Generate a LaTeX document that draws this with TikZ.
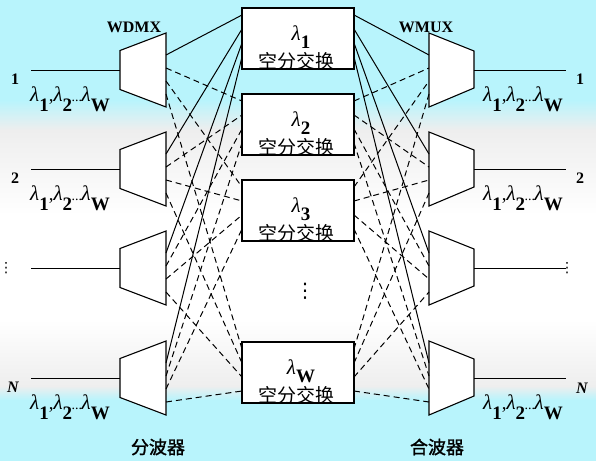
\documentclass[tikz,border=0pt]{standalone}
\usepackage{fontspec}
\setmainfont{Liberation Serif}
\newfontfamily\cjk{Noto Sans CJK SC}
\newfontfamily\cjkb[FakeBold=1.5]{Noto Sans CJK SC}
\newfontfamily\sym{DejaVu Sans}
\definecolor{cyanbg}{RGB}{184,244,252}
\definecolor{graybg}{RGB}{238,238,238}
\newcommand\lsub[1]{{\fontsize{21}{22}\selectfont\itshape λ}\raisebox{-0.55em}{\bfseries #1}}
\newcommand\lsubbox[1]{{\fontsize{21}{22}\selectfont\itshape λ}\raisebox{-0.42em}{\bfseries #1}}
\newcommand\lamlist{\lsub{1},\lsub{2}\kern-0.5pt{\fontsize{14}{14}\selectfont...}\kern-0.5pt\lsub{W}}
\tikzset{
  trap/.style={draw, fill=white, line width=1.1pt},
  cbox/.style={draw, fill=white, line width=1.1pt, minimum width=112pt, minimum height=61pt, inner sep=0pt},
  link/.style={line width=1pt},
  dlink/.style={line width=1pt, dash pattern=on 6pt off 4pt},
  big/.style={font=\fontsize{19}{20}\selectfont, inner sep=0pt},
  num/.style={font=\fontsize{16}{18}\selectfont\bfseries, inner sep=0pt},
  dots/.style={font=\fontsize{14}{14}\selectfont\sym, inner sep=0pt},
  cjktext/.style={font=\fontsize{19}{20}\selectfont\cjk, inner sep=0pt},
  cjkbold/.style={font=\fontsize{18}{20}\selectfont\cjkb, inner sep=0pt}
}
\begin{document}
\begin{tikzpicture}[x=1pt,y=-1pt]
\useasboundingbox (0,0) rectangle (596,461);
% background
\fill[cyanbg] (0,0) rectangle (596,100);
\shade[top color=cyanbg, bottom color=graybg] (0,100) rectangle (596,130);
\shade[top color=graybg, bottom color=white] (0,130) rectangle (596,215);
\fill[white] (0,215) rectangle (596,320);
\shade[top color=white, bottom color=graybg] (0,320) rectangle (596,386);
\shade[top color=graybg, bottom color=cyanbg] (0,386) rectangle (596,400);
\fill[cyanbg] (0,400) rectangle (596,461);

% demultiplexers and multiplexers
\foreach \i/\yc in {1/70,2/169,3/268,4/378} {
  \draw[trap] (120,\yc-19.5) -- (166,\yc-37) -- (166,\yc+37) -- (120,\yc+19.5) -- cycle;
  \draw[trap] (429,\yc-37) -- (474,\yc-19) -- (474,\yc+18) -- (429,\yc+37) -- cycle;
  \coordinate (din\i) at (120,\yc);
  \coordinate (ain\i) at (31,\yc);
  \coordinate (mout\i) at (474,\yc);
  \coordinate (aout\i) at (566,\yc);
  \foreach \j in {1,...,4} {
    \coordinate (dp\i\j) at (166,{\yc-15+13*(\j-1)});
    \coordinate (mp\i\j) at (429,{\yc-15+13*(\j-1)});
  }
}
\foreach \i in {1,...,4} {
  \draw[link] (ain\i) -- (din\i);
  \draw[link] (mout\i) -- (aout\i);
}

% switch boxes
\foreach \j/\t/\s in {1/8/1,2/94/2,3/180/3,4/342/W} {
  \node[cbox] (b\j) at (298,\t+30.5) {};
  \node[big] (lam\j) at (301,\t+29) {\lsubbox{\s}};
  \node[cjktext] (sw\j) at (296,\t+53.5) {空分交换};
  \foreach \i in {1,...,4} {
    \coordinate (bl\j\i) at (242,{\t+7+14*(\i-1)});
    \coordinate (br\j\i) at (354,{\t+7+14*(\i-1)});
  }
}

% connections
\foreach \i in {1,...,4} {
  \draw[link] (dp\i1) -- (bl1\i);
  \draw[link] (br1\i) -- (mp\i1);
  \foreach \j in {2,3,4} {
    \draw[dlink] (dp\i\j) -- (bl\j\i);
    \draw[dlink] (br\j\i) -- (mp\i\j);
  }
}

% labels
\node[font=\fontsize{16}{18}\selectfont\bfseries, inner sep=0pt] (wdmx) at (134,27) {WDMX};
\node[font=\fontsize{16}{18}\selectfont\bfseries, inner sep=0pt] (wmux) at (426,27) {WMUX};
\node[num] (n1) at (15,79) {1};
\node[num] (n2) at (15,178) {2};
\node[dots] (nd) at (6,268) {⋮};
\node[num] (nN) at (13,387) {\itshape N};
\node[num] (m1) at (580,79) {1};
\node[num] (m2) at (580,178) {2};
\node[dots] (md) at (567,268) {⋮};
\node[num] (mN) at (582,388) {\itshape N};
\node[dots, font=\fontsize{20}{20}\selectfont\sym] (vd) at (305,291) {⋮};
\foreach \yc/\k in {70/1,169/2,378/4} {
  \node[big] (ll\k) at (70,\yc+29) {\lamlist};
  \node[big] (rl\k) at (523,\yc+29) {\lamlist};
}
\node[cjkbold] (fen) at (158,447) {分波器};
\node[cjkbold] (he) at (437,447) {合波器};
\end{tikzpicture}
\end{document}
